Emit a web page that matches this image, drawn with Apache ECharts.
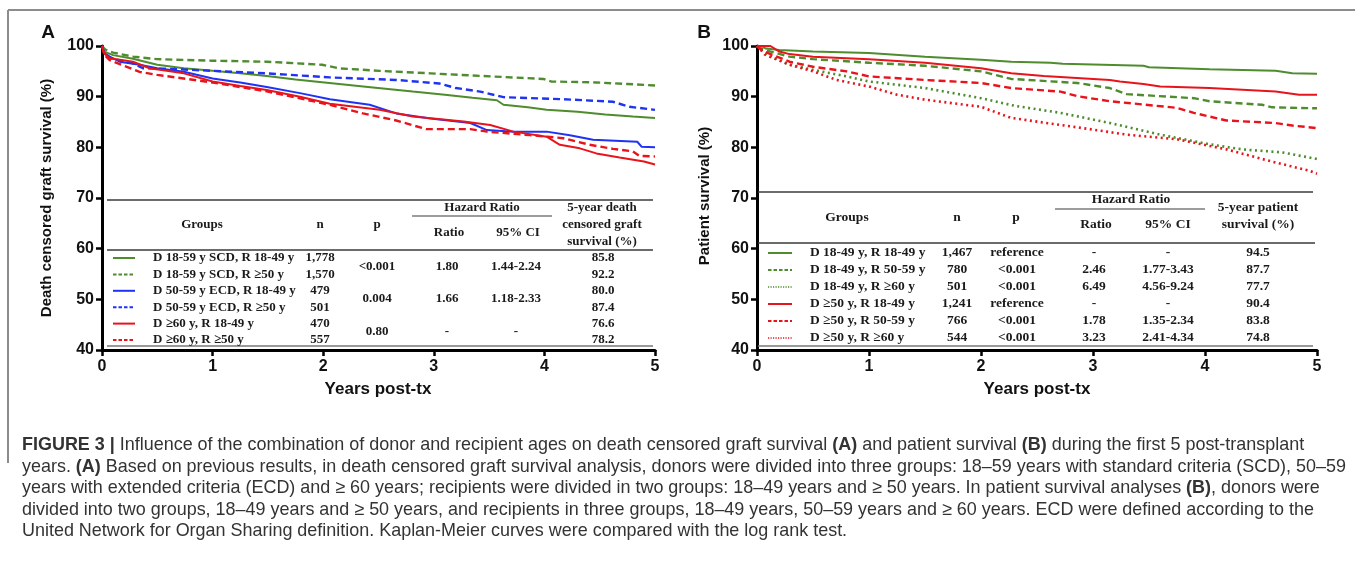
<!DOCTYPE html>
<html><head><meta charset="utf-8">
<script src="https://cdn.jsdelivr.net/npm/echarts/dist/echarts.min.js"></script>
<style>html,body{margin:0;padding:0;background:#fff}#c{width:1355px;height:563px}</style>
</head><body><div id="c"></div>
<script>
// ================= DATA =================
const yearTicks = [0, 1, 2, 3, 4, 5];
const survTicks = [40, 50, 60, 70, 80, 90, 100];

// Panel A: death censored graft survival (years, %)
const A_SCD_R1849 = [[0,100],[0.02,98.9],[0.1,98.2],[0.28,97.5],[0.5,96.3],[0.74,95.6],[1,95.1],[1.25,94.6],[1.49,94.1],[1.75,93.4],[2.1,92.6],[2.45,91.8],[2.81,91.0],[3.1,90.4],[3.35,89.8],[3.57,89.3],[3.63,88.4],[3.85,87.9],[4.02,87.4],[4.3,87.0],[4.55,86.5],[4.8,86.1],[5,85.8]];
const A_SCD_R50 = [[0,100],[0.03,99.3],[0.1,98.7],[0.28,97.9],[0.5,97.4],[1,97.1],[1.49,96.9],[1.99,96.3],[2.14,95.6],[2.51,95.1],[2.97,94.6],[3.42,94.1],[3.99,93.5],[4.06,93.0],[4.47,92.8],[4.75,92.5],[5,92.2]];
const A_ECD_R1849 = [[0,100],[0.02,98.6],[0.07,97.9],[0.16,96.9],[0.34,96.3],[0.5,95.6],[0.74,94.9],[1,93.6],[1.25,92.8],[1.49,91.9],[1.79,90.7],[2.06,89.5],[2.42,88.4],[2.66,86.7],[2.97,85.7],[3.33,84.8],[3.48,83.4],[3.72,83.1],[4.02,83.1],[4.23,82.4],[4.44,81.5],[4.84,81.1],[4.88,80.1],[5,80.0]];
const A_ECD_R50 = [[0,100],[0.02,98.6],[0.07,97.6],[0.28,96.6],[0.37,95.6],[0.59,95.5],[1,95.1],[1.49,94.6],[2.06,93.8],[2.66,93.3],[3.05,92.6],[3.2,91.7],[3.42,91.0],[3.63,89.9],[4.17,89.5],[4.62,89.0],[4.77,88.0],[5,87.4]];
const A_D60_R1849 = [[0,100],[0.02,98.5],[0.07,97.6],[0.28,96.9],[0.43,95.6],[0.74,94.6],[1,93.0],[1.25,92.1],[1.49,91.3],[1.79,90.0],[2.06,88.6],[2.51,87.4],[2.81,86.1],[3.27,85.1],[3.51,84.4],[3.72,83.1],[4.02,82.1],[4.14,80.5],[4.32,79.8],[4.47,78.8],[4.68,78.0],[4.9,77.2],[5,76.6]];
const A_D60_R50 = [[0,100],[0.02,98.3],[0.07,97.2],[0.34,94.9],[0.5,94.3],[1,92.8],[1.5,91.0],[2.06,88.4],[2.36,86.7],[2.66,85.3],[2.93,83.6],[3.33,83.6],[3.48,83.1],[3.87,82.4],[4.17,81.8],[4.41,80.5],[4.62,79.7],[4.8,79.2],[4.86,78.3],[5,78.2]];

// Panel B: patient survival (years, %)
const B_D1849_R1849 = [[0,100],[0.04,100],[0.08,99.5],[0.2,99.2],[0.5,98.9],[1,98.6],[1.5,97.9],[2,97.3],[2.27,96.9],[2.62,96.7],[2.73,96.5],[3.45,96.1],[3.5,95.8],[4.04,95.4],[4.63,95.1],[4.78,94.6],[5,94.5]];
const B_D1849_R5059 = [[0,100],[0.03,99.6],[0.07,99.2],[0.29,97.9],[0.5,97.4],[1,96.7],[1.5,96.1],[2,95.0],[2.27,93.5],[2.86,92.7],[3.15,91.7],[3.3,90.5],[3.9,89.7],[4.04,89.1],[4.51,88.4],[4.6,87.9],[5,87.7]];
const B_D1849_R60 = [[0,100],[0.03,99.4],[0.07,98.6],[0.29,96.3],[0.5,95.3],[0.8,94.0],[1,93.0],[1.5,91.7],[2,89.7],[2.3,88.2],[2.71,86.8],[3.15,84.8],[3.6,82.5],[4.04,80.6],[4.33,79.6],[4.69,79.0],[4.93,78.0],[5,77.7]];
const B_D50_R1849 = [[0,100],[0.12,100],[0.2,98.9],[0.29,98.4],[0.5,97.9],[1,97.4],[1.5,96.7],[2,95.6],[2.27,94.6],[2.56,94.1],[3.15,93.3],[3.24,93.0],[3.45,92.5],[3.6,92.0],[4.04,91.7],[4.63,91.0],[4.84,90.4],[5,90.4]];
const B_D50_R5059 = [[0,100],[0.02,99.5],[0.1,98.6],[0.29,96.9],[0.5,95.9],[0.8,95.0],[1,94.0],[1.5,93.3],[2,92.7],[2.27,91.7],[2.71,91.0],[2.86,90.1],[3.15,89.1],[3.75,87.8],[3.9,86.8],[4.19,85.3],[4.63,84.8],[4.78,84.3],[5,83.8]];
const B_D50_R60 = [[0,100],[0.03,99.3],[0.07,98.3],[0.29,96.3],[0.5,95.0],[0.71,93.3],[1,92.0],[1.25,90.4],[1.5,89.4],[2,88.0],[2.27,85.8],[3,83.5],[3.3,82.5],[3.75,81.6],[4.19,79.6],[4.63,77.0],[4.93,75.4],[5,74.8]];

// Table A
const A_groups = ["D 18-59 y SCD, R 18-49 y","D 18-59 y SCD, R \u226550 y","D 50-59 y ECD, R 18-49 y","D 50-59 y ECD, R \u226550 y","D \u226560 y, R 18-49 y","D \u226560 y, R \u226550 y"];
const A_n = ["1,778","1,570","479","501","470","557"];
const A_p = ["<0.001","0.004","0.80"];
const A_ratio = ["1.80","1.66","-"];
const A_ci = ["1.44-2.24","1.18-2.33","-"];
const A_surv5 = ["85.8","92.2","80.0","87.4","76.6","78.2"];

// Table B
const B_groups = ["D 18-49 y, R 18-49 y","D 18-49 y, R 50-59 y","D 18-49 y, R \u226560 y","D \u226550 y, R 18-49 y","D \u226550 y, R 50-59 y","D \u226550 y, R \u226560 y"];
const B_n = ["1,467","780","501","1,241","766","544"];
const B_p = ["reference","<0.001","<0.001","reference","<0.001","<0.001"];
const B_ratio = ["-","2.46","6.49","-","1.78","3.23"];
const B_ci = ["-","1.77-3.43","4.56-9.24","-","1.35-2.34","2.41-4.34"];
const B_surv5 = ["94.5","87.7","77.7","90.4","83.8","74.8"];

const captionLines = [
  "{b|FIGURE 3 |} Influence of the combination of donor and recipient ages on death censored graft survival {b|(A)} and patient survival {b|(B)} during the first 5 post-transplant",
  "years. {b|(A)} Based on previous results, in death censored graft survival analysis, donors were divided into three groups: 18\u201359 years with standard criteria (SCD), 50\u201359",
  "years with extended criteria (ECD) and \u2265 60 years; recipients were divided in two groups: 18\u201349 years and \u2265 50 years. In patient survival analyses {b|(B)}, donors were",
  "divided into two groups, 18\u201349 years and \u2265 50 years, and recipients in three groups, 18\u201349 years, 50\u201359 years and \u2265 60 years. ECD were defined according to the",
  "United Network for Organ Sharing definition. Kaplan-Meier curves were compared with the log rank test."
];

// ================= STYLE =================
const GREEN = '#4e8c2e', BLUE = '#1f33f2', RED = '#e8141c';
const SOLID = 'solid', DASH = [7, 4], DOT = [2, 3.5];
const A_data = [A_SCD_R1849, A_SCD_R50, A_ECD_R1849, A_ECD_R50, A_D60_R1849, A_D60_R50];
const A_style = [[GREEN,SOLID],[GREEN,DASH],[BLUE,SOLID],[BLUE,DASH],[RED,SOLID],[RED,DASH]];
const B_data = [B_D1849_R1849, B_D1849_R5059, B_D1849_R60, B_D50_R1849, B_D50_R5059, B_D50_R60];
const B_style = [[GREEN,SOLID],[GREEN,DASH],[GREEN,DOT],[RED,SOLID],[RED,DASH],[RED,DOT]];

const SANS = '"Liberation Sans", Arial, sans-serif';
const SERIF = '"Liberation Serif", "Times New Roman", serif';
const GA = {left: 102, top: 46, width: 553, height: 304};
const GB = {left: 757, top: 46, width: 560, height: 304};

function mkAxes(gi) {
  const x = {
    type: 'value', gridIndex: gi, min: 0, max: 5, interval: 1,
    axisLine: {show: true, onZero: false, lineStyle: {color: '#000', width: 3}},
    axisTick: {show: true, length: 6, lineStyle: {color: '#000', width: 2.5}},
    axisLabel: {margin: 9, color: '#111', fontFamily: SANS, fontWeight: 'bold', fontSize: 16,
      formatter: v => yearTicks.includes(v) ? String(v) : ''},
    splitLine: {show: false}
  };
  const y = {
    type: 'value', gridIndex: gi, min: 40, max: 100, interval: 10,
    axisLine: {show: true, onZero: false, lineStyle: {color: '#000', width: 3}},
    axisTick: {show: true, length: 6, lineStyle: {color: '#000', width: 2.5}},
    axisLabel: {margin: 8, color: '#111', fontFamily: SANS, fontWeight: 'bold', fontSize: 16,
      formatter: v => survTicks.includes(v) ? String(v) : ''},
    splitLine: {show: false}
  };
  return [x, y];
}
const [xa, ya] = mkAxes(0);
const [xb, yb] = mkAxes(1);

function mkSeries(data, style, gi, names) {
  return data.map((d, i) => ({
    type: 'line', name: names[i], xAxisIndex: gi, yAxisIndex: gi, data: d,
    symbol: 'none', showSymbol: false, silent: true, animation: false, z: 3,
    lineStyle: {color: style[i][0], width: style[i][1] === SOLID ? 2 : (style[i][1] === DOT ? 2.6 : 2.4), type: style[i][1]}
  }));
}

// ---------- graphics helpers ----------
const G = [];
function T(x, y, text, opt) {
  opt = opt || {};
  const st = {
    text: text, x: x, y: y,
    fill: opt.fill || '#1a1a1a',
    font: opt.font || ('bold 13px ' + SERIF),
    align: opt.align || 'center', textAlign: opt.align || 'center',
    verticalAlign: 'middle', textVerticalAlign: 'middle'
  };
  G.push({type: 'text', silent: true, z: 10, rotation: opt.rot || 0, x: opt.rot ? x : 0, y: opt.rot ? y : 0,
    style: opt.rot ? Object.assign(st, {x: 0, y: 0}) : st});
}
function L(x1, y1, x2, y2, color, w, dash) {
  G.push({type: 'line', silent: true, z: 10, shape: {x1, y1, x2, y2},
    style: {stroke: color, lineWidth: w, lineDash: dash || null}});
}

// frame
L(8, 10, 1355, 10, '#8c8c8c', 2);
L(8, 10, 8, 463, '#8c8c8c', 2);

// panel letters
T(48, 33, 'A', {font: 'bold 19px ' + SANS, fill: '#111'});
T(704, 33, 'B', {font: 'bold 19px ' + SANS, fill: '#111'});

// axis titles
T(47, 198, 'Death censored graft survival (%)', {font: 'bold 15px ' + SANS, fill: '#111', rot: Math.PI / 2});
T(705, 196, 'Patient survival (%)', {font: 'bold 15px ' + SANS, fill: '#111', rot: Math.PI / 2});
T(378, 389, 'Years post-tx', {font: 'bold 17px ' + SANS, fill: '#111'});
T(1037, 389, 'Years post-tx', {font: 'bold 17px ' + SANS, fill: '#111'});

// ---------- Table A ----------
(function () {
  const F = 'bold 13px ' + SERIF, LC = '#3a3a3a';
  L(107, 200, 653, 200, LC, 1.6);
  L(107, 250, 653, 250, LC, 1.6);
  L(107, 346, 653, 346, '#777', 1.6);
  L(412, 216, 552, 216, LC, 1.2);
  T(202, 225, 'Groups', {font: F});
  T(320, 225, 'n', {font: F});
  T(377, 225, 'p', {font: F});
  T(482, 208, 'Hazard Ratio', {font: F});
  T(449, 233, 'Ratio', {font: F});
  T(518, 233, '95% CI', {font: F});
  T(602, 208, '5-year death', {font: F});
  T(602, 225, 'censored graft', {font: F});
  T(602, 242, 'survival (%)', {font: F});
  const y0 = 258, dy = 16.4;
  A_groups.forEach((g, i) => {
    const y = y0 + i * dy;
    L(113, y, 135, y, A_style[i][0], 2, A_style[i][1] === SOLID ? null : [3.5, 2]);
    T(153, y, g, {font: F, align: 'left'});
    T(320, y, A_n[i], {font: F});
    T(603, y, A_surv5[i], {font: F});
  });
  A_p.forEach((p, k) => {
    const y = y0 + (2 * k + 0.5) * dy;
    T(377, y, p, {font: F});
    T(447, y, A_ratio[k], {font: F});
    T(516, y, A_ci[k], {font: F});
  });
})();

// ---------- Table B ----------
(function () {
  const F = 'bold 13.5px ' + SERIF, LC = '#3a3a3a';
  L(758, 192, 1313, 192, LC, 1.6);
  L(758, 243, 1315, 243, LC, 1.6);
  L(758, 346, 1313, 346, '#777', 1.6);
  L(1055, 209, 1205, 209, LC, 1.2);
  T(847, 218, 'Groups', {font: F});
  T(957, 218, 'n', {font: F});
  T(1016, 218, 'p', {font: F});
  T(1131, 200, 'Hazard Ratio', {font: F});
  T(1096, 225, 'Ratio', {font: F});
  T(1168, 225, '95% CI', {font: F});
  T(1258, 208, '5-year patient', {font: F});
  T(1258, 225, 'survival (%)', {font: F});
  const y0 = 253, dy = 17;
  B_groups.forEach((g, i) => {
    const y = y0 + i * dy;
    const st = B_style[i][1];
    L(768, y, 792, y, B_style[i][0], st === DOT ? 1.6 : 2, st === SOLID ? null : (st === DOT ? [1.2, 1.3] : [3.5, 2]));
    T(810, y, g, {font: F, align: 'left'});
    T(957, y, B_n[i], {font: F});
    T(1017, y, B_p[i], {font: F});
    T(1094, y, B_ratio[i], {font: F});
    T(1168, y, B_ci[i], {font: F});
    T(1258, y, B_surv5[i], {font: F});
  });
})();

// ---------- Caption ----------
(function () {
  const cv = document.createElement('canvas').getContext('2d');
  const fam = '"Liberation Sans", Arial, sans-serif';
  const fs = 18.5;
  const plain = captionLines[1].replace(/\{b\|([^}]*)\}/g, '$1');
  cv.font = fs + 'px ' + fam;
  const sx = 1323 / cv.measureText(plain).width;
  const ys = [445, 466.5, 488, 509.5, 531];
  captionLines.forEach((ln, i) => {
    G.push({type: 'text', silent: true, z: 10, x: 22, y: ys[i], scaleX: sx, scaleY: 1, style: {
      text: ln, x: 0, y: 0, fontSize: fs, fontFamily: fam, fill: '#333333',
      verticalAlign: 'middle', textVerticalAlign: 'middle', align: 'left', textAlign: 'left',
      rich: {b: {fontSize: fs, fontFamily: fam, fontWeight: 'bold', fill: '#333333'}}
    }});
  });
})();

const chart = echarts.init(document.getElementById('c'), null, {renderer: 'canvas'});
chart.setOption({
  backgroundColor: '#ffffff',
  animation: false,
  grid: [Object.assign({containLabel: false}, GA), Object.assign({containLabel: false}, GB)],
  xAxis: [xa, xb],
  yAxis: [ya, yb],
  series: mkSeries(A_data, A_style, 0, A_groups).concat(mkSeries(B_data, B_style, 1, B_groups)),
  graphic: G
});
</script>
</body></html>
